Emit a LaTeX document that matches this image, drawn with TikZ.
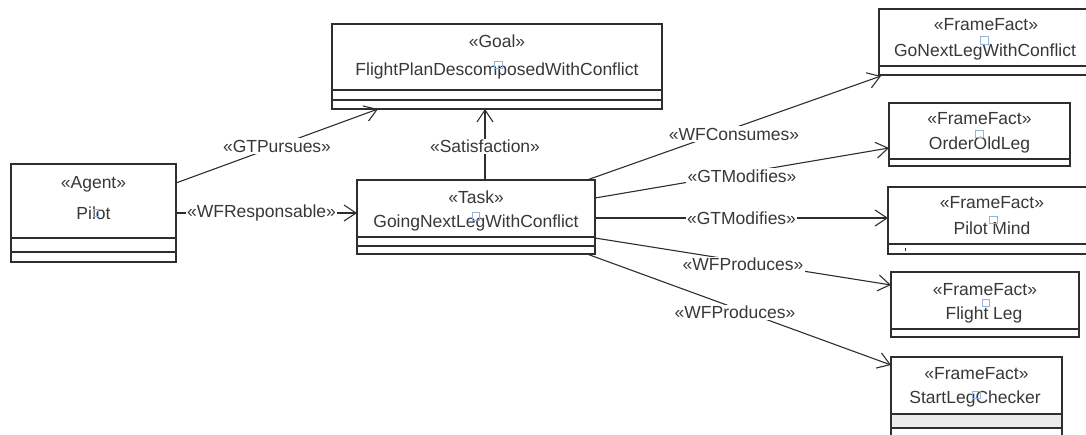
\documentclass[tikz,border=0pt]{standalone}
\usepackage{fontspec}
\setmainfont{Liberation Sans}
\usetikzlibrary{arrows.meta,calc}
\definecolor{boxc}{HTML}{2E2E2E}
\definecolor{txtc}{HTML}{383838}
\definecolor{markc}{HTML}{93B3DC}
\definecolor{graycomp}{HTML}{EBEBEB}
\begin{document}
\begin{tikzpicture}[x=1pt,y=-1pt,
  umlbox/.style={draw=boxc, line width=1.4pt, fill=white, anchor=north west, inner sep=0pt, outer sep=0pt},
  div/.style={draw=boxc, line width=1.4pt},
  txt/.style={text=txtc, font=\fontsize{17.5}{20}\selectfont, inner sep=0pt, anchor=base},
  lbl/.style={text=txtc, font=\fontsize{17.5}{20}\selectfont, fill=white, inner sep=1.5pt},
  conn/.style={draw=boxc, line width=1.1pt, -{Straight Barb[length=12pt,width=16pt,line width=1.1pt]}},
  markbox/.style={draw=markc, line width=0.9pt},
]
\useasboundingbox (0,0) rectangle (1086,434);

% ---- boxes ----
\node[umlbox, minimum width=165pt, minimum height=98pt] (pilot) at (11,164) {};
\draw[div] (11,238) -- (176,238);
\draw[div] (11,252) -- (176,252);
\node[txt] (pilotst) at (93.5,188) {«Agent»};
\node[txt] (pilotnm) at (93.5,219) {Pilot};

\node[umlbox, minimum width=330pt, minimum height=85pt] (goal) at (332,24) {};
\draw[div] (332,90) -- (662,90);
\draw[div] (332,100) -- (662,100);
\node[txt] (goalst) at (497,47) {«Goal»};
\node[txt] (goalnm) at (497,75) {FlightPlanDescomposedWithConflict};

\node[umlbox, minimum width=238pt, minimum height=74pt] (task) at (357,180) {};
\draw[div] (357,237) -- (595,237);
\draw[div] (357,246) -- (595,246);
\node[txt] (taskst) at (476,203) {«Task»};
\node[txt] (tasknm) at (476,227) {GoingNextLegWithConflict};

\node[umlbox, minimum width=215pt, minimum height=66pt] (gonext) at (879,9) {};
\draw[div] (879,66) -- (1094,66);
\node[txt] (gonextst) at (986,30) {«FrameFact»};
\node[txt] (gonextnm) at (985,56) {GoNextLegWithConflict};

\node[umlbox, minimum width=181pt, minimum height=63pt] (order) at (889,103) {};
\draw[div] (889,159) -- (1070,159);
\node[txt] (orderst) at (979.5,124) {«FrameFact»};
\node[txt] (ordernm) at (979.5,149) {OrderOldLeg};

\node[umlbox, minimum width=208pt, minimum height=67pt] (pmind) at (888,187) {};
\draw[div] (888,244) -- (1096,244);
\draw[boxc, line width=1pt] (905,247.5) -- (905,251);
\node[txt] (pmindst) at (992,208) {«FrameFact»};
\node[txt] (pmindnm) at (992,234) {Pilot Mind};

\node[umlbox, minimum width=188pt, minimum height=65pt] (fleg) at (891,272) {};
\draw[div] (891,329) -- (1079,329);
\node[txt] (flegst) at (985,295) {«FrameFact»};
\node[txt] (flegnm) at (984,319) {Flight Leg};

\node[umlbox, minimum width=171pt, minimum height=80pt] (slc) at (891,357) {};
\fill[graycomp] (892,414) rectangle (1061,428);
\draw[div] (891,414) -- (1062,414);
\draw[div] (891,428) -- (1062,428);
\node[txt] (slcst) at (976.5,379) {«FrameFact»};
\node[txt] (slcnm) at (975,403) {StartLegChecker};

% ---- editor markers ----
\draw[markbox] (494,61) rectangle (502,68);
\draw[markbox] (472,212) rectangle (479,220);
\draw[markbox] (93,209) rectangle (98,216);
\draw[markbox] (980,36) rectangle (988,44);
\draw[markbox] (975,130) rectangle (983,137);
\draw[markbox] (989,216) rectangle (997,223);
\draw[markbox] (982,299) rectangle (989,306);
\draw[markbox] (972,391) rectangle (980,398);

% ---- connectors ----
\draw[conn] ($(pilot.north east)+(0,19)$) -- node[lbl] (l1) {«GTPursues»} ($(goal.south west)+(46,0)$);
\draw[conn] ($(pilot.north east)+(0,49)$) -- node[lbl, xshift=-5pt] (l2) {«WFResponsable»} ($(task.north west)+(0,33)$);
\draw[conn] ($(task.north west)+(128,0)$) -- node[lbl, yshift=-2pt] (l3) {«Satisfaction»} ($(goal.south west)+(153,0)$);
\draw[conn] ($(task.north east)+(-8,0)$) -- node[lbl, yshift=-6pt] (l4) {«WFConsumes»} ($(gonext.south west)+(2,1)$);
\draw[conn] ($(task.north east)+(0,18)$) -- node[lbl, yshift=-3pt] (l5) {«GTModifies»} ($(order.north west)+(0,45)$);
\draw[conn] ($(task.north east)+(0,38)$) -- node[lbl] (l6) {«GTModifies»} ($(pmind.north west)+(0,31)$);
\draw[conn] ($(task.north east)+(0,58)$) -- node[lbl, yshift=-3pt] (l7) {«WFProduces»} ($(fleg.north west)+(0,13)$);
\draw[conn] ($(task.south east)+(-8,0)$) -- node[lbl, yshift=-3pt, xshift=-4pt] (l8) {«WFProduces»} ($(slc.north west)+(0,8)$);
\end{tikzpicture}
\end{document}
